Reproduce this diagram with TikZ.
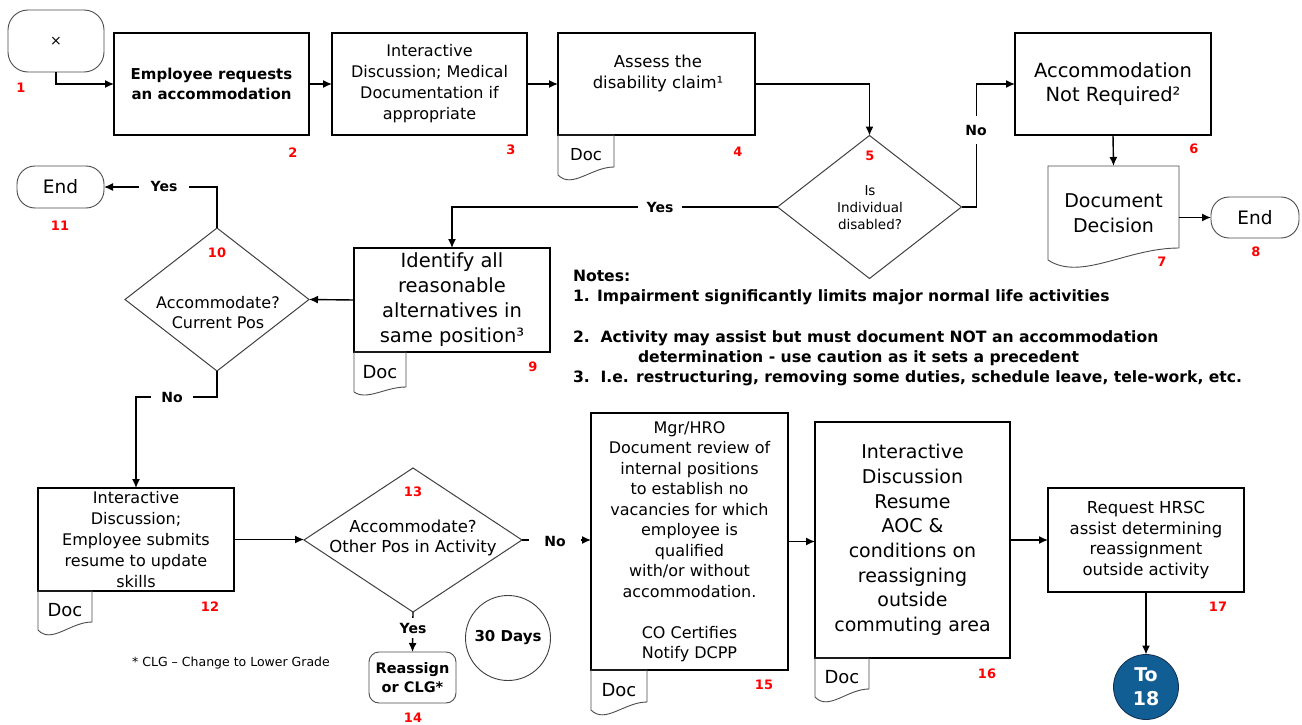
\documentclass[tikz,border=0pt]{standalone}
\usepackage{fontspec}
\setmainfont{DejaVu Sans}
\usetikzlibrary{arrows.meta,shapes.geometric,calc}
\newcommand\fsz[2]{\fontsize{#1}{#2}\selectfont}
\newcommand\docwave[2]{%
  \draw[rdoc] (#1.south west) -- (#1.north west) -- (#1.north east) -- ($(#1.south east)+(0,-#2)$)
   .. controls ($(#1.south west)!0.6!(#1.south east)+(0,-#2)$) and ($(#1.south west)!0.25!(#1.south east)+(0,1.8*#2)$) .. (#1.south west);}
\definecolor{tocol}{RGB}{16,94,148}
\definecolor{tobrd}{RGB}{20,45,80}
\definecolor{labred}{RGB}{255,0,0}
\tikzset{
 every node/.style={inner sep=0pt, outer sep=0pt, align=center},
 rbox/.style={draw=black, line width=1.3pt, rectangle},
 rterm/.style={draw=black!70, line width=0.9pt, rectangle},
 rdia/.style={draw=black!75, line width=1pt, diamond},
 rtab/.style={rectangle, anchor=north west, font=\fsz{18}{20}},
 rdoc/.style={draw=black!70, line width=0.9pt},
 rconn/.style={line width=1.4pt, -{Latex[length=9pt,width=8pt]}},
 ryn/.style={fill=white, font=\bfseries\fsz{14}{16}, inner xsep=6pt, inner ysep=3pt},
 rnum/.style={text=labred, font=\bfseries\fsz{13}{15}},
 rnote/.style={anchor=west, font=\bfseries\fsz{15.6}{17}, text height=11.5pt, text depth=3.3pt},
}
\begin{document}
\begin{tikzpicture}[x=1pt,y=-1pt]
\fill[white] (0,0) rectangle (1302,725);
\useasboundingbox (0,0) rectangle (1302,725);

% ---- row 1
\node[rterm, rounded corners=20pt, minimum width=96pt, minimum height=62pt, font=\fsz{14}{16}] (n1) at (56,41) {×};
\node[rbox, minimum width=195pt, minimum height=102pt, font=\bfseries\fsz{15}{20}] (n2) at (211.5,84) {Employee requests\\an accommodation};
\node[rbox, minimum width=195pt, minimum height=102pt, font=\fsz{16}{21}] (n3) at (429.5,84) {Interactive\\Discussion; Medical\\Documentation if\\appropriate};
\node[rbox, minimum width=197pt, minimum height=102pt] (n4) at (656.5,84) {};
\node[font=\fsz{16.5}{21}] (n4t) at (658,73.5) {Assess the\\disability claim¹};
\node[rtab, minimum width=56pt, minimum height=40pt, font=\fsz{16.5}{18}] (d4) at (n4.south west) {Doc};
\docwave{d4}{8}
\node[rdia, minimum width=184pt, minimum height=143pt] (n5) at (869.5,207) {};
\node[font=\fsz{13.5}{17}] (n5t) at (870,207.5) {Is\\Individual\\disabled?};
\node[rbox, minimum width=196pt, minimum height=102pt, font=\fsz{19.5}{24}] (n6) at (1113,84) {Accommodation\\Not Required²};
\node[rectangle, minimum width=131pt, minimum height=94pt, font=\fsz{19}{25}] (n7) at (1113.5,213) {Document\\Decision};
\docwave{n7}{12}
\node[rterm, rounded corners=18pt, minimum width=88pt, minimum height=41pt, font=\fsz{18.5}{20}] (n8) at (1255,217.5) {End};

% ---- row 2
\node[rbox, minimum width=196pt, minimum height=104pt, font=\fsz{19.5}{25}] (n9) at (452,300) {Identify all\\reasonable\\alternatives in\\same position³};
\node[rtab, minimum width=52pt, minimum height=40pt] (d9) at (n9.south west) {Doc};
\docwave{d9}{5}
\node[rdia, minimum width=184pt, minimum height=143pt] (n10) at (217,299.5) {};
\node[font=\fsz{16}{20}] (n10t) at (218,313) {Accommodate?\\Current Pos};
\node[rterm, rounded corners=18pt, minimum width=87pt, minimum height=42pt, font=\fsz{18.5}{20}] (n11) at (60.5,187) {End};

% ---- row 3
\node[rbox, minimum width=196pt, minimum height=103pt, font=\fsz{16}{20.8}] (n12) at (136,539.5) {Interactive\\Discussion;\\Employee submits\\resume to update\\skills};
\node[rtab, minimum width=54pt, minimum height=39pt] (d12) at (n12.south west) {Doc};
\docwave{d12}{8}
\node[rdia, minimum width=218pt, minimum height=144pt] (n13) at (413,540) {};
\node[font=\fsz{16.5}{20}] (n13t) at (413,538) {Accommodate?\\Other Pos in Activity};
\node[rterm, rounded corners=10pt, minimum width=87pt, minimum height=51pt, font=\bfseries\fsz{14.5}{19}] (n14) at (412.5,677.5) {Reassign\\or CLG*};
\node[font=\fsz{12.5}{14}] (clg) at (231,663) {* CLG – Change to Lower Grade};
\node[circle, draw=black!75, line width=0.9pt, minimum size=85pt, font=\bfseries\fsz{15}{17}] (n30) at (508,638) {30 Days};
\node[rbox, minimum width=197pt, minimum height=257pt, font=\fsz{16}{20.5}] (n15) at (689.5,541.5) {Mgr/HRO\\Document review of\\internal positions\\to establish no\\vacancies for which\\employee is\\qualified\\with/or without\\accommodation.\\[20.5pt]CO Certifies\\Notify DCPP};
\node[rtab, minimum width=56pt, minimum height=40pt] (d15) at (n15.south west) {Doc};
\docwave{d15}{8}
\node[rbox, minimum width=195pt, minimum height=236pt, font=\fsz{19}{24.7}] (n16) at (912.5,540) {Interactive\\Discussion\\Resume\\AOC \&\\conditions on\\reassigning\\outside\\commuting area};
\node[rtab, minimum width=54pt, minimum height=39pt] (d16) at (n16.south west) {Doc};
\docwave{d16}{8}
\node[rbox, minimum width=196pt, minimum height=104pt, font=\fsz{16.5}{20.5}] (n17) at (1146,540) {Request HRSC\\assist determining\\reassignment\\outside activity};
\node[circle, fill=tocol, draw=tobrd, line width=0.8pt, minimum size=65pt, text=white, font=\bfseries\fsz{19}{24}] (n18) at (1146,687) {To\\18};

% ---- notes
\node[rnote] (nt0) at (573,277) {Notes:};
\node[rnote] (nt1) at (573,297) {1. Impairment significantly limits major normal life activities};
\node[rnote] (nt2) at (573,338) {2.\ \ Activity may assist but must document NOT an accommodation};
\node[rnote] (nt3) at (638,358) {determination - use caution as it sets a precedent};
\node[rnote] (nt4) at (573,378) {3.\ \ I.e. restructuring, removing some duties, schedule leave, tele-work, etc.};

% ---- connectors
\draw[rconn] (n1.south) |- (n2.west);
\draw[rconn] (n2.east) -- (n3.west);
\draw[rconn] (n3.east) -- (n4.west);
\draw[rconn] (n4.east) -| (n5.north);
\draw[rconn] (n5.east) -- ++(15,0) |- (n6.west);
\draw[rconn] (n6.south) -- (n7.north);
\draw[rconn] (n8.west -| n7.east) -- (n8.west);
\draw[rconn] (n5.west) -| (n9.north);
\draw[rconn] (n9.west) -- (n10.east);
\draw[rconn] (n10.north) |- (n11.east);
\draw[rconn] (n10.south) -- ++(0,26) -| (n12.north);
\draw[rconn] (n12.east) -- (n12.east -| n13.west);
\draw[rconn] (n13.east) -- (n13.east -| n15.west);
\draw[rconn] (n13.south) -- (n14.north);
\draw[rconn] (n15.east) -- (n15.east -| n16.west);
\draw[rconn] (n16.east) -- (n16.east -| n17.west);
\draw[rconn] (n17.south) -- (n18.north);

% ---- yes / no
\node[ryn, inner ysep=9pt] (no5) at (976,130) {No};
\node[ryn, inner xsep=9pt] (yes5) at (660,207) {Yes};
\node[ryn, inner xsep=12pt] (yes10) at (164,186) {Yes};
\node[ryn, inner xsep=10pt] (no10) at (172,397) {No};
\node[ryn, inner xsep=15pt] (no13) at (555,541) {No};
\node[ryn, inner ysep=5pt] (yes13) at (413,628) {Yes};

% ---- numbers
\node[rnum] (l1) at (21,88) {1};
\node[rnum] (l2) at (293,153) {2};
\node[rnum] (l3) at (511,150) {3};
\node[rnum] (l4) at (738,152) {4};
\node[rnum] (l5) at (870,156) {5};
\node[rnum] (l6) at (1194,149) {6};
\node[rnum] (l7) at (1162,262) {7};
\node[rnum] (l8) at (1256,252) {8};
\node[rnum] (l9) at (533,367) {9};
\node[rnum] (l10) at (217,253) {10};
\node[rnum] (l11) at (60,226) {11};
\node[rnum] (l12) at (210,607) {12};
\node[rnum] (l13) at (413,492) {13};
\node[rnum] (l14) at (413,718) {14};
\node[rnum] (l15) at (764,685) {15};
\node[rnum] (l16) at (987,674) {16};
\node[rnum] (l17) at (1218,607) {17};
\end{tikzpicture}
\end{document}
